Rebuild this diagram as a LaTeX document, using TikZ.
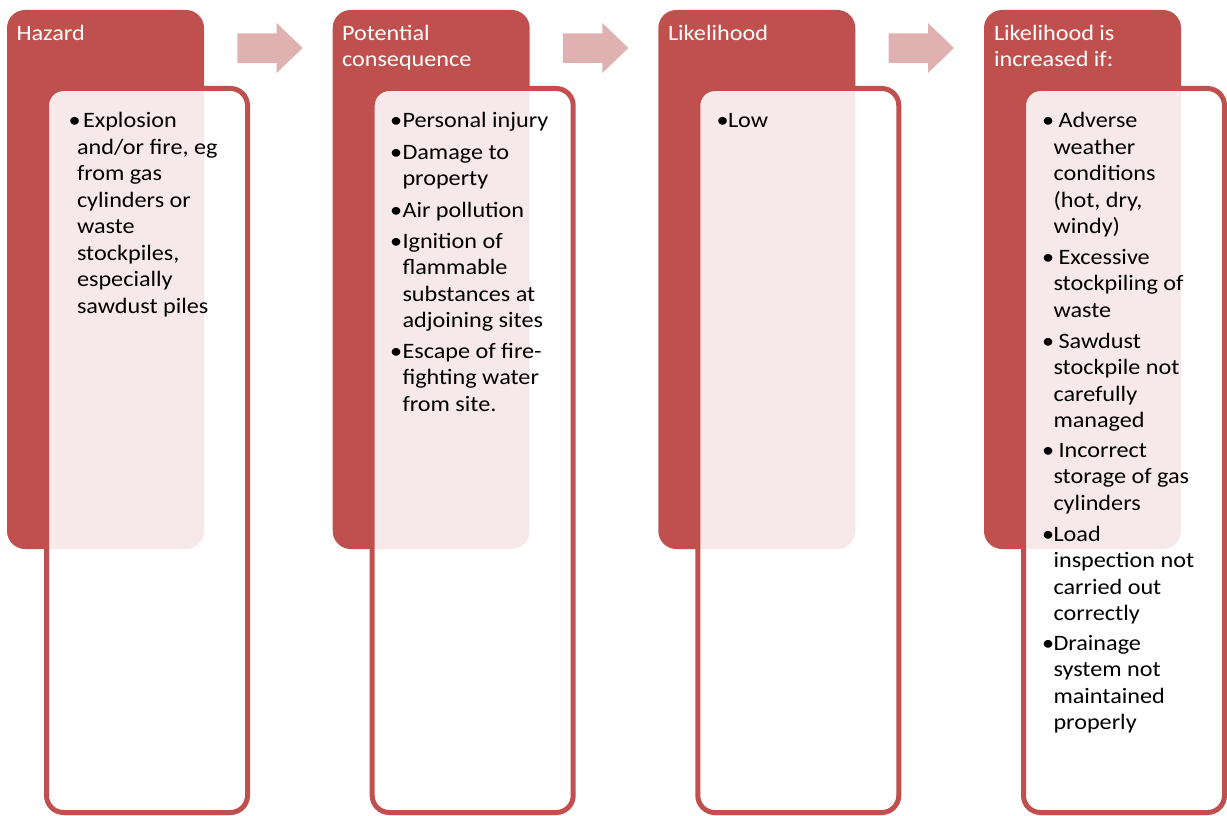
\documentclass[tikz,border=0pt]{standalone}
\usepackage{fontspec}
\setmainfont{Carlito}[FakeStretch=1.1]
\definecolor{acc}{HTML}{C0504D}
\definecolor{arr}{HTML}{DFB2B1}
\newcommand{\lns}[1]{\begin{tabular}[t]{@{}l@{}}#1\end{tabular}}
\tikzset{
  titlebox/.style={fill=acc, draw=none, rounded corners=18pt, inner sep=0pt, outer sep=0pt,
    minimum width=197pt, minimum height=539pt, anchor=north west},
  listbox/.style={draw=acc, line width=5pt, fill=white, fill opacity=0.88, rounded corners=17pt,
    inner sep=0pt, outer sep=0pt, minimum width=201pt, minimum height=724pt, anchor=north west},
  arrowshape/.style={fill=arr},
  txt/.style={anchor=base west, inner sep=0pt, outer sep=0pt, font=\fontsize{22}{26.5}\selectfont},
  ttl/.style={txt, text=white},
}
\begin{document}
\begin{tikzpicture}[x=1pt,y=-1pt]
\useasboundingbox (0,0) rectangle (1227,816);
% title boxes
\node[titlebox] (t1) at (7,10) {};
\node[titlebox] (t2) at (332.7,10) {};
\node[titlebox] (t3) at (658.3,10) {};
\node[titlebox] (t4) at (984,10) {};
% list boxes
\node[listbox] (b1) at (46.5,88.5) {};
\node[listbox] (b2) at (372.2,88.5) {};
\node[listbox] (b3) at (697.8,88.5) {};
\node[listbox] (b4) at (1023.5,88.5) {};
% arrows
\foreach \dx in {0,325.67,651.33}{
  \fill[arrowshape] (237.3+\dx,33.5) -- (276.7+\dx,33.5) -- (276.7+\dx,23) -- (302.7+\dx,48)
     -- (276.7+\dx,73) -- (276.7+\dx,63) -- (237.3+\dx,63) -- cycle;
}
% titles
\node[ttl] (h1) at (16.5,40.5) {Hazard};
\node[ttl] (h2) at (342,40.5) {\lns{Potential\\consequence}};
\node[ttl] (h3) at (668,40.5) {Likelihood};
\node[ttl] (h4) at (994,40.5) {\lns{Likelihood is\\increased if:}};
% column 1
\node[txt] (a1b) at (68.5,128) {•};
\node[txt] (a1) at (77,128) {\lns{\hspace{6pt}Explosion\\and/or fire, eg\\from gas\\cylinders or\\waste\\stockpiles,\\especially\\sawdust piles}};
% column 2
\node[txt] (c1b) at (390,128) {•};
\node[txt] (c1) at (402.5,128) {Personal injury};
\node[txt] (c2b) at (390,159) {•};
\node[txt] (c2) at (402.5,159) {\lns{Damage to\\property}};
\node[txt] (c3b) at (390,217) {•};
\node[txt] (c3) at (402.5,217) {Air pollution};
\node[txt] (c4b) at (390,248) {•};
\node[txt] (c4) at (402.5,248) {\lns{Ignition of\\flammable\\substances at\\adjoining sites}};
\node[txt] (c5b) at (390,358) {•};
\node[txt] (c5) at (402.5,358) {\lns{Escape of fire-\\fighting water\\from site.}};
% column 3
\node[txt] (d1b) at (716.5,128) {•};
\node[txt] (d1) at (728,128) {Low};
% column 4
\node[txt] (e1b) at (1042,128) {•};
\node[txt] (e1) at (1053.5,128) {\lns{\hspace{5pt}Adverse\\weather\\conditions\\(hot, dry,\\windy)}};
\node[txt] (e2b) at (1042,264) {•};
\node[txt] (e2) at (1053.5,264) {\lns{\hspace{5pt}Excessive\\stockpiling of\\waste}};
\node[txt] (e3b) at (1042,348) {•};
\node[txt] (e3) at (1053.5,348) {\lns{\hspace{5pt}Sawdust\\stockpile not\\carefully\\managed}};
\node[txt] (e4b) at (1042,457) {•};
\node[txt] (e4) at (1053.5,457) {\lns{\hspace{5pt}Incorrect\\storage of gas\\cylinders}};
\node[txt] (e5b) at (1042,541) {•};
\node[txt] (e5) at (1053.5,541) {\lns{Load\\inspection not\\carried out\\correctly}};
\node[txt] (e6b) at (1042,650) {•};
\node[txt] (e6) at (1053.5,650) {\lns{Drainage\\system not\\maintained\\properly}};
\end{tikzpicture}
\end{document}
